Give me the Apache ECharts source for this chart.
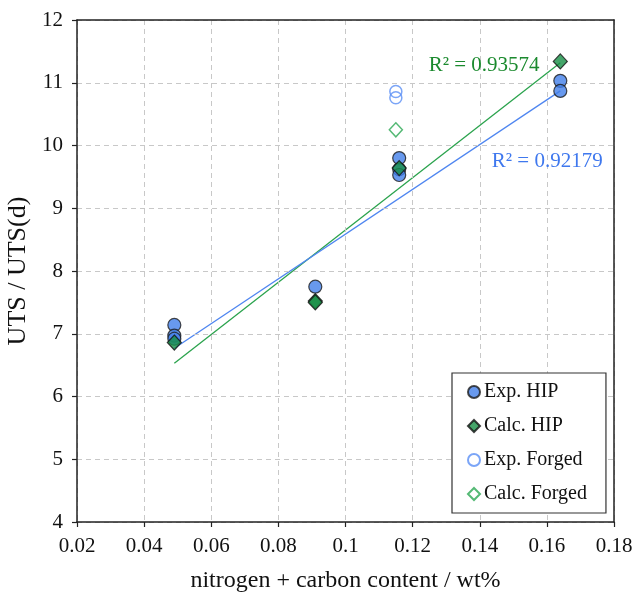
<!DOCTYPE html>
<html>
<head>
<meta charset="utf-8">
<script src="https://cdn.jsdelivr.net/npm/echarts@6/dist/echarts.min.js"></script>
<style>html,body{margin:0;padding:0;background:#fff;}#c{width:633px;height:596px;}</style>
</head>
<body>
<div id="c"></div>
<script>
var expHipX = [0.049, 0.049, 0.049, 0.091, 0.116, 0.116, 0.116, 0.164, 0.164];
var expHipY = [7.14, 6.97, 6.92, 7.75, 9.80, 9.62, 9.53, 11.03, 10.87];
var calcHipX = [0.049, 0.091, 0.091, 0.116, 0.164];
var calcHipY = [6.86, 7.52, 7.50, 9.64, 11.34];
var expForgedX = [0.115, 0.115];
var expForgedY = [10.86, 10.76];
var calcForgedX = [0.115];
var calcForgedY = [10.25];
var fitCalcX = [0.049, 0.164];
var fitCalcY = [6.53, 11.32];
var fitExpX = [0.049, 0.164];
var fitExpY = [6.77, 10.87];
var r2Calc = 'R\u00B2 = 0.93574';
var r2Exp = 'R\u00B2 = 0.92179';
var r2CalcPos = [0.1413, 11.27];
var r2ExpPos = [0.1601, 9.75];
var legendNames = ['Exp. HIP', 'Calc. HIP', 'Exp. Forged', 'Calc. Forged'];

function zip(xs, ys) { return xs.map(function (x, i) { return [x, ys[i]]; }); }

var serif = 'Liberation Serif';
var blue = '#4280ea';
var green = '#178f45';
var frameAxis = {
  axisLine: {show: true, onZero: false, lineStyle: {color: '#222', width: 1.5}},
  axisTick: {show: false}, axisLabel: {show: false}, splitLine: {show: false}, z: 6
};
var chart = echarts.init(document.getElementById('c'), null, {renderer: 'canvas'});
chart.setOption({
  animation: false,
  backgroundColor: '#fff',
  grid: {left: 77, right: 19, top: 20, bottom: 74, show: false, containLabel: false, outerBoundsMode: 'none'},
  xAxis: [{
    type: 'value', min: 0.02, max: 0.18, interval: 0.02,
    name: 'nitrogen + carbon content / wt%', nameLocation: 'middle', nameGap: 47,
    nameTextStyle: {fontFamily: serif, fontSize: 24, color: '#111'},
    axisLine: {show: true, onZero: false, lineStyle: {color: '#222', width: 1.5}},
    axisTick: {show: true, inside: false, length: 5, lineStyle: {color: '#222', width: 1.2}},
    axisLabel: {fontFamily: serif, fontSize: 21, color: '#111', margin: 14,
      formatter: function (v) { return String(parseFloat(v.toFixed(2))); }},
    splitLine: {show: true, lineStyle: {color: '#c8c8c8', type: [5, 4], width: 1}},
    z: 3
  }, Object.assign({type: 'value', min: 0.02, max: 0.18, interval: 0.02, position: 'top'}, frameAxis)],
  yAxis: [{
    type: 'value', min: 4, max: 12, interval: 1,
    name: 'UTS / UTS(d)', nameLocation: 'middle', nameGap: 44,
    nameTextStyle: {fontFamily: serif, fontSize: 26, color: '#111'},
    axisLine: {show: true, onZero: false, lineStyle: {color: '#222', width: 1.5}},
    axisTick: {show: true, inside: false, length: 5, lineStyle: {color: '#222', width: 1.2}},
    axisLabel: {fontFamily: serif, fontSize: 21, color: '#111', margin: 14},
    splitLine: {show: true, lineStyle: {color: '#c8c8c8', type: [5, 4], width: 1}},
    z: 3
  }, Object.assign({type: 'value', min: 4, max: 12, interval: 1, position: 'right'}, frameAxis)],
  legend: {
    orient: 'vertical', left: 452, top: 373,
    data: legendNames,
    backgroundColor: '#fff', borderColor: '#333', borderWidth: 1.2, borderRadius: 0,
    padding: [9, 19, 9, 15], itemGap: 14, itemWidth: 12, itemHeight: 12,
    textStyle: {fontFamily: serif, fontSize: 20, color: '#111', padding: [0, 0, 0, -1]}
  },
  series: [
    {
      type: 'line', name: 'fitCalc', data: zip(fitCalcX, fitCalcY), symbol: 'none',
      lineStyle: {color: '#2ba34d', width: 1.3}, z: 1, silent: true,
      markPoint: {
        symbol: 'circle', symbolSize: 0, silent: true,
        label: {show: true, fontFamily: serif, fontSize: 21, color: '#1b8a2e', formatter: r2Calc},
        data: [{coord: r2CalcPos}]
      }
    },
    {
      type: 'line', name: 'fitExp', data: zip(fitExpX, fitExpY), symbol: 'none',
      lineStyle: {color: '#4f86f0', width: 1.3}, z: 1, silent: true,
      markPoint: {
        symbol: 'circle', symbolSize: 0, silent: true,
        label: {show: true, fontFamily: serif, fontSize: 21, color: '#3f78ee', formatter: r2Exp},
        data: [{coord: r2ExpPos}]
      }
    },
    {
      type: 'scatter', name: legendNames[2], data: zip(expForgedX, expForgedY),
      symbol: 'circle', symbolSize: 12,
      itemStyle: {color: 'rgba(255,255,255,0)', borderColor: '#5a8ff5', borderWidth: 1.5}, z: 3
    },
    {
      type: 'scatter', name: legendNames[3], data: zip(calcForgedX, calcForgedY),
      symbol: 'diamond', symbolSize: [13, 14],
      itemStyle: {color: 'rgba(255,255,255,0)', borderColor: '#2aa852', borderWidth: 1.5}, z: 3
    },
    {
      type: 'scatter', name: legendNames[0], data: zip(expHipX, expHipY),
      symbol: 'circle', symbolSize: 13,
      itemStyle: {color: blue, borderColor: '#1a1a1a', borderWidth: 1.2}, z: 4
    },
    {
      type: 'scatter', name: legendNames[1], data: zip(calcHipX, calcHipY),
      symbol: 'diamond', symbolSize: [14, 15],
      itemStyle: {color: green, borderColor: '#111', borderWidth: 1.2}, z: 5
    }
  ]
});
</script>
</body>
</html>
